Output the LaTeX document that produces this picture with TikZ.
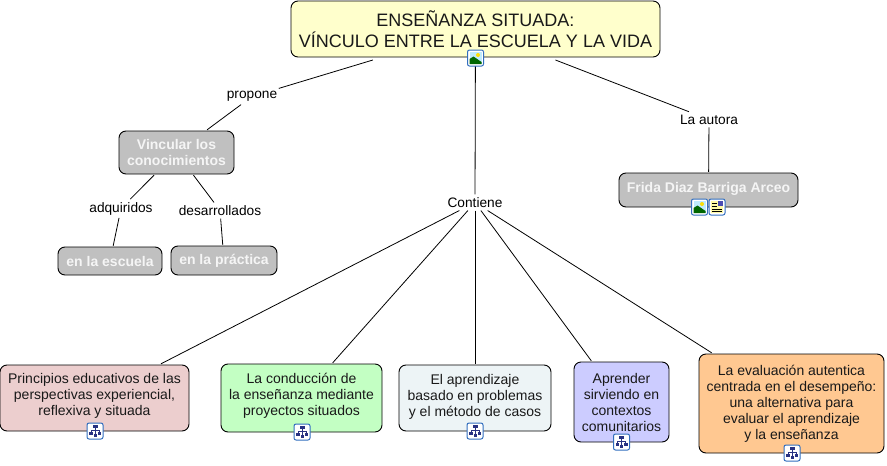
\documentclass[tikz,border=0pt]{standalone}
\usepackage{fontspec}
\setmainfont{Liberation Sans}
\definecolor{cmyellow}{RGB}{255,255,204}
\definecolor{cmgrey}{RGB}{192,192,192}
\definecolor{cmrose}{RGB}{236,206,206}
\definecolor{cmgreen}{RGB}{195,255,195}
\definecolor{cmpale}{RGB}{237,244,246}
\definecolor{cmviolet}{RGB}{204,204,255}
\definecolor{cmorange}{RGB}{255,200,145}
\definecolor{iconblue}{RGB}{50,110,190}
\definecolor{iconnavy}{RGB}{40,50,130}
\tikzset{
  concept/.style={draw=black,line width=0.9pt,rounded corners=7pt,align=center,inner sep=0pt,outer sep=1.2pt,font=\fontsize{14}{16}\selectfont,text=black!90},
  greybox/.style={concept,fill=cmgrey,text=white!96!black,font=\fontsize{14}{16}\selectfont\bfseries},
  linklabel/.style={inner sep=1pt,outer sep=2pt,font=\fontsize{13.7}{16}\selectfont},
  link/.style={draw=black,line width=0.8pt},
  iconframe/.style={draw=iconblue,line width=1pt,fill=white,rounded corners=2pt,minimum size=16pt,inner sep=0pt},
}
% small icons, drawn on top of the boxes
\newcommand{\pictureicon}[2]{
  \node[iconframe] (#1) at #2 {};
  \fill[cyan!25] ([shift={(-6,-6)}]#1.center) rectangle ([shift={(6,6)}]#1.center);
  \fill[green!40!black] ([shift={(-6,6)}]#1.center) -- ([shift={(-6,1)}]#1.center) -- ([shift={(-2,-1.5)}]#1.center) -- ([shift={(6,4)}]#1.center) -- ([shift={(6,6)}]#1.center) -- cycle;
  \fill[yellow!80!orange] ([shift={(2.5,-3)}]#1.center) circle (2);
}
\newcommand{\posticon}[2]{
  \node[iconframe] (#1) at #2 {};
  \fill[yellow!35] ([shift={(-6,-6)}]#1.center) rectangle ([shift={(6,6)}]#1.center);
  \fill[blue!40!gray] ([shift={(1,-6)}]#1.center) rectangle ([shift={(6,-1.5)}]#1.center);
  \foreach \yy/\xx in {-4/0,-1/0,2/5,4.5/5} \draw[black,line width=0.7pt] ([shift={(-5,\yy)}]#1.center) -- ([shift={(\xx,\yy)}]#1.center);
}
\newcommand{\mapicon}[2]{
  \node[iconframe] (#1) at #2 {};
  \fill[iconnavy] ([shift={(-2.5,-6)}]#1.center) rectangle ([shift={(2.5,-3)}]#1.center);
  \draw[iconnavy,line width=0.6pt] ([shift={(0,-3)}]#1.center) -- ([shift={(0,3)}]#1.center) ([shift={(-4,1)}]#1.center) -- ([shift={(-4,-1)}]#1.center) -- ([shift={(4,-1)}]#1.center) -- ([shift={(4,1)}]#1.center);
  \fill[iconnavy] ([shift={(-6,1)}]#1.center) rectangle ([shift={(-2.5,4)}]#1.center);
  \fill[iconnavy] ([shift={(2.5,1)}]#1.center) rectangle ([shift={(6,4)}]#1.center);
  \fill[iconnavy] ([shift={(-1.5,3)}]#1.center) rectangle ([shift={(1.5,6)}]#1.center);
}
\begin{document}
\begin{tikzpicture}[x=1pt,y=-1pt]
  \useasboundingbox (0,0) rectangle (887,466);
  % main box
  \node[concept,outer sep=3pt,fill=cmyellow,minimum width=369pt,minimum height=56pt,font=\fontsize{18}{20.5}\selectfont] (title) at (475.5,29) {ENSEÑANZA SITUADA:\\VÍNCULO ENTRE LA ESCUELA Y LA VIDA};
  % left branch
  \node[greybox,minimum width=115pt,minimum height=43pt] (vincular) at (176.5,152.5) {Vincular los\\conocimientos};
  \node[greybox,minimum width=104pt,minimum height=28pt] (escuela) at (110,261) {en la escuela};
  \node[greybox,minimum width=106pt,minimum height=29pt] (practica) at (224,260.5) {en la práctica};
  % right branch
  \node[greybox,minimum width=179pt,minimum height=34pt,text depth=6pt] (frida) at (708.5,190) {Frida Diaz Barriga Arceo};
  % bottom row
  \node[concept,fill=cmrose,minimum width=189pt,minimum height=66pt,text depth=8pt] (principios) at (94.5,398) {Principios educativos de las\\perspectivas experiencial,\\reflexiva y situada};
  \node[concept,fill=cmgreen,minimum width=161pt,minimum height=68pt,text depth=7pt] (proyectos) at (301.5,398) {La conducción de\\la enseñanza mediante\\proyectos situados};
  \node[concept,fill=cmpale,minimum width=152pt,minimum height=66pt,text depth=6pt] (casos) at (475,398) {El aprendizaje\\basado en problemas\\y el método de casos};
  \node[concept,fill=cmviolet,minimum width=95pt,minimum height=80pt] (sirviendo) at (621.5,402) {Aprender\\sirviendo en\\contextos\\comunitarios};
  \node[concept,fill=cmorange,minimum width=185pt,minimum height=99pt] (evaluacion) at (791.5,403.5) {La evaluación autentica\\centrada en el desempeño:\\una alternativa para\\evaluar el aprendizaje\\y la enseñanza};
  % link labels
  \node[linklabel] (propone) at (252,96.5) {propone};
  \node[linklabel] (contiene) at (475,202.5) {Contiene};
  \node[linklabel] (autora) at (709,119.5) {La autora};
  \node[linklabel] (adquiridos) at (121,208.5) {adquiridos};
  \node[linklabel] (desarrollados) at (220,210.5) {desarrollados};
  % connectors
  \draw[link] (title) -- (propone);
  \draw[link] (propone) -- (vincular);
  \draw[link] (title) -- (contiene);
  \draw[link] (title) -- (autora);
  \draw[link] (autora) -- (frida);
  \draw[link] (vincular) -- (adquiridos);
  \draw[link] (vincular) -- (desarrollados);
  \draw[link] (adquiridos) -- (escuela);
  \draw[link] (desarrollados) -- (practica);
  \foreach \target in {principios,proyectos,casos,sirviendo,evaluacion}
    \draw[link] (contiene) -- (\target);
  % icons
  \pictureicon{titleimg}{(475.5,58)}
  \pictureicon{fridaimg}{(699.5,207)}
  \posticon{fridatxt}{(717,207)}
  \mapicon{principiosmap}{(95,431)}
  \mapicon{proyectosmap}{(302,432)}
  \mapicon{casosmap}{(475,431)}
  \mapicon{sirviendomap}{(621.5,442)}
  \mapicon{evaluacionmap}{(792,453)}
\end{tikzpicture}
\end{document}
